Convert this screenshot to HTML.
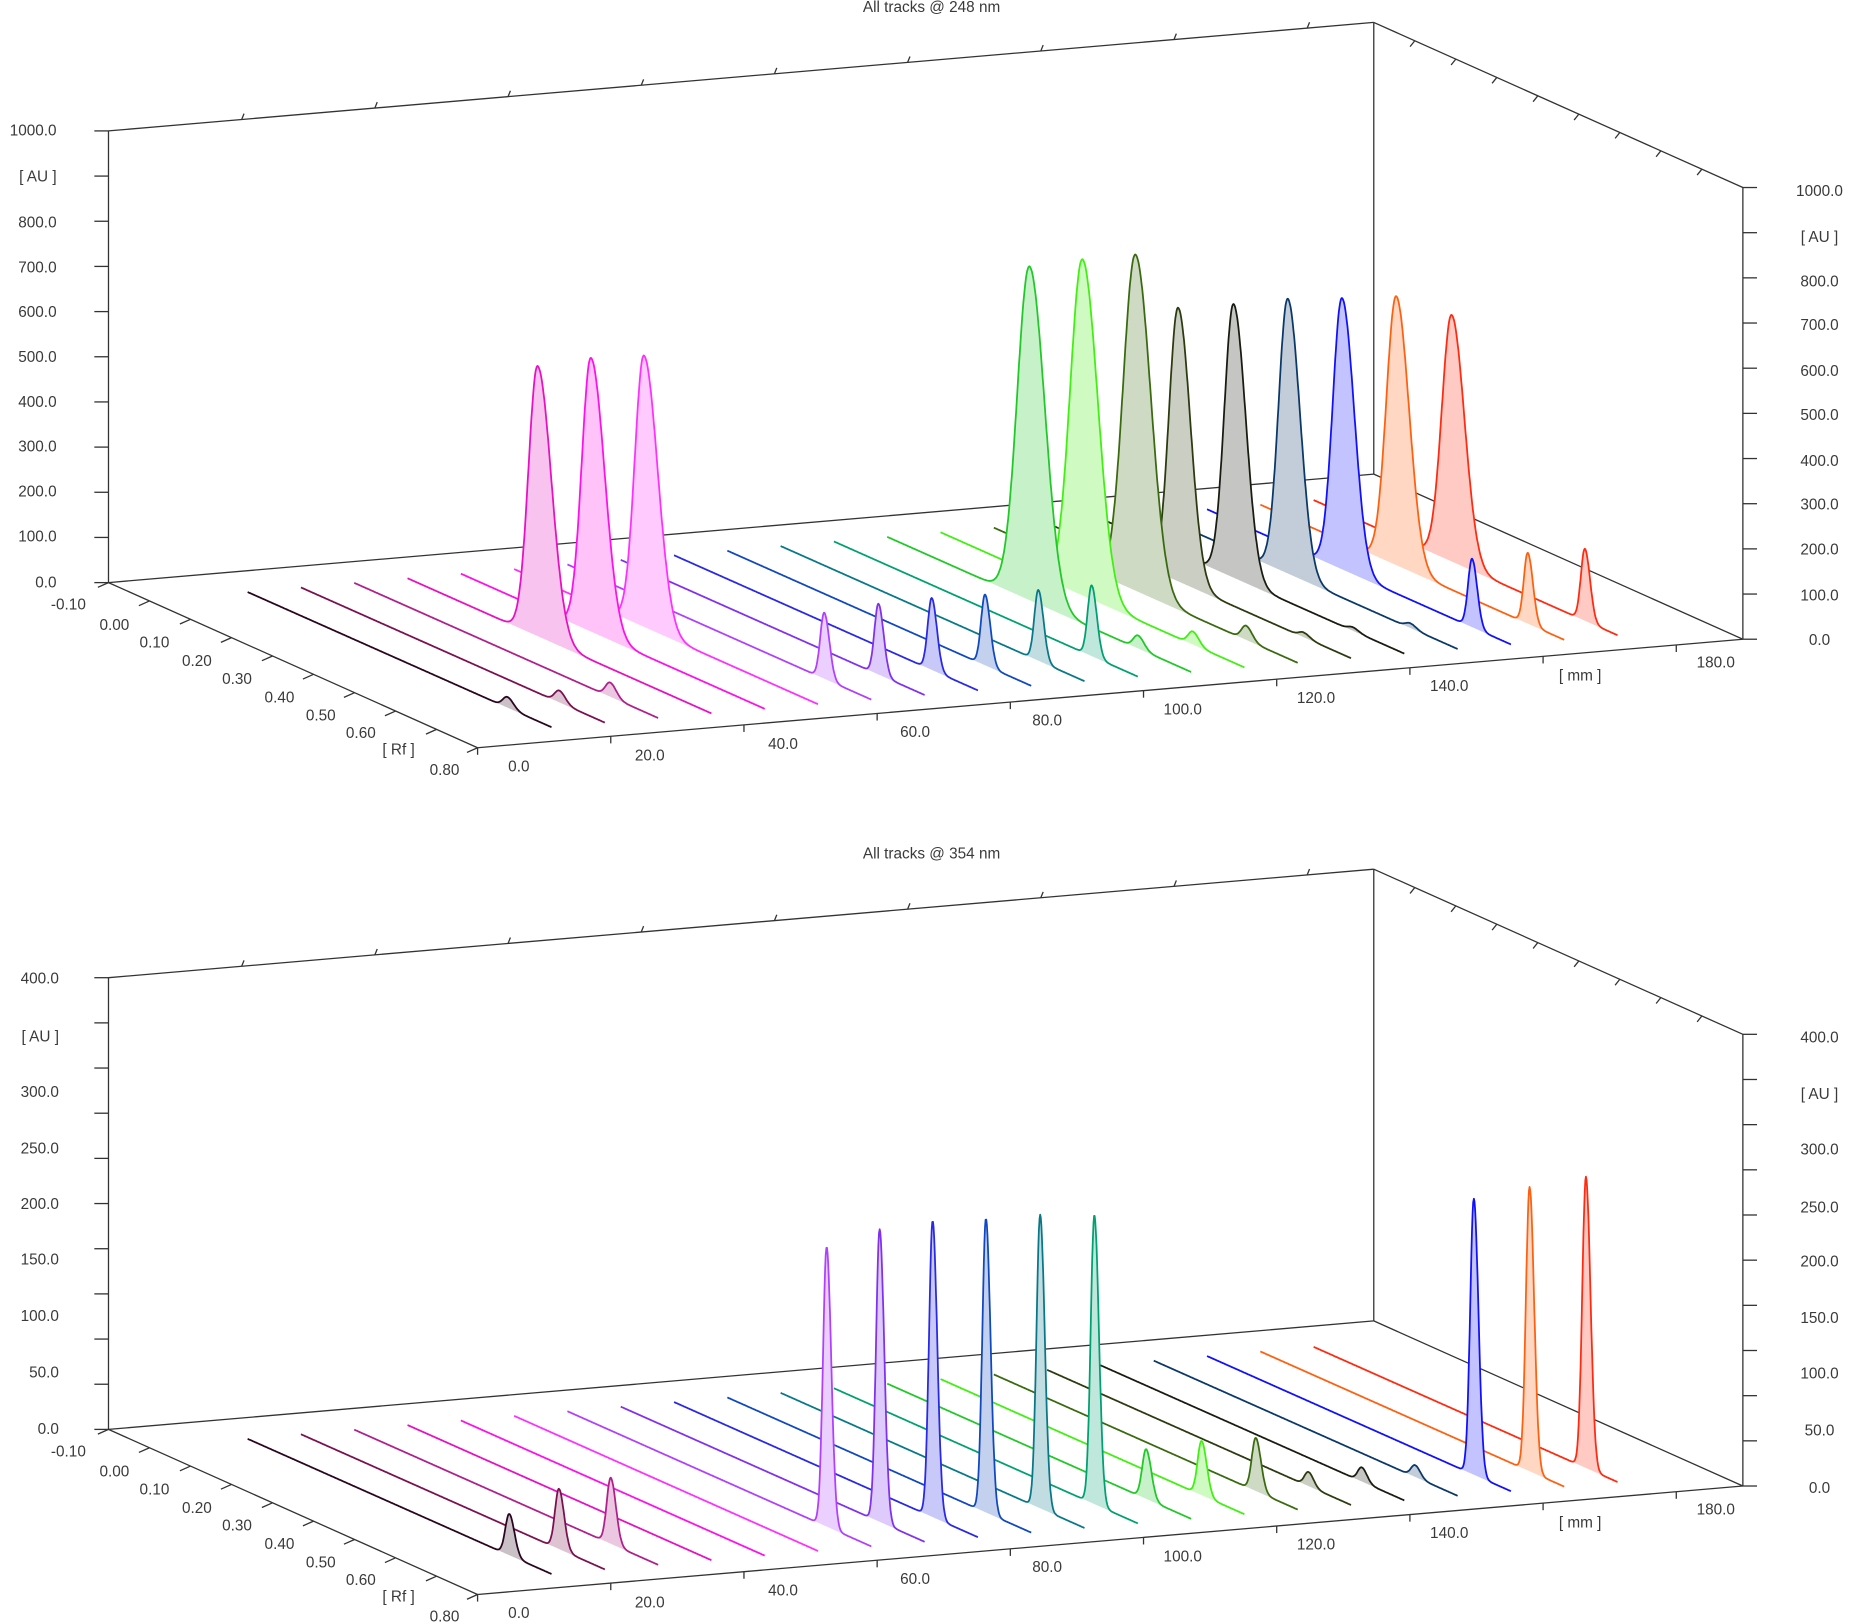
<!DOCTYPE html>
<html><head><meta charset="utf-8">
<style>
html,body{margin:0;padding:0;background:#fff;}
svg{display:block;}
text{font-family:"Liberation Sans",Arial,sans-serif;font-size:13px;fill:#3a3a3a;}
</style></head>
<body>
<svg id="s" width="1849" height="1624" viewBox="0 0 1568 1377" preserveAspectRatio="none" xmlns="http://www.w3.org/2000/svg">
<g id="axes" stroke="#333" stroke-width="1.1" fill="none"></g>
<g id="labels"></g>
<g id="tracks"></g>
</svg>
<script>
(function(){
var NS="http://www.w3.org/2000/svg";
var axes=document.getElementById('axes'),labels=document.getElementById('labels'),tracks=document.getElementById('tracks');
function el(tag,attrs,parent,txt){var e=document.createElementNS(NS,tag);for(var k in attrs)e.setAttribute(k,attrs[k]);if(txt!==undefined)e.textContent=txt;parent.appendChild(e);return e;}
function line(x1,y1,x2,y2,p){el('line',{x1:x1,y1:y1,x2:x2,y2:y2},p||axes);}
function txt(x,y,s,anchor){el('text',{x:x,y:y,'text-anchor':anchor||'middle'},labels,s);}

var colors=['#2a0520','#7a1050','#b0208a','#e810c0','#ff10e8','#ff30ff','#b040ff','#8030f0','#2828e8','#1048c0','#087888','#00a070','#20c828','#40f010','#3a6a10','#2c3a10','#181c10','#0a3868','#1010ff','#ff6010','#ff2a10'];
function tint(c,a){var r=parseInt(c.substr(1,2),16),g=parseInt(c.substr(3,2),16),b=parseInt(c.substr(5,2),16);
 function m(v){return Math.round(255-(255-v)*a);}return 'rgb('+m(r)+','+m(g)+','+m(b)+')';}

function drawPlot(off,title,leftLabels,rightLabels,peaks){
 line(92,494+off,92,111+off);
 line(92,111+off,1165,19+off);
 line(1165,19+off,1478,159+off);
 line(1478,159+off,1478,542+off);
 line(1165,19+off,1165,402+off);
 line(92,494+off,1165,402+off);
 line(1165,402+off,1478,542+off);
 line(92,494+off,405,634+off);
 line(405,634+off,1478,542+off);
 for(var i=0;i<=10;i++){var y=494+off-38.3*i;line(80,y,92,y);}
 for(var i=0;i<=10;i++){var y=542+off-38.3*i;line(1478,y,1490,y);}
 for(var j=1;j<=9;j++){var x=92+1073*j*20/190,y=111+off-92*j*20/190;line(x,y,x+2,y-5);}
 for(var j=1;j<=8;j++){var f=j/9;var x=1165+313*f,y=19+off+140*f;line(x,y,x-4,y+5);}
 for(var j=0;j<=9;j++){var f=j/9;var x=92+313*f,y=494+off+140*f;line(x,y,x-9,y+4);}
 for(var j=0;j<=9;j++){var f=j*20/190;var x=405+1073*f,y=634+off-92*f;line(x,y,x,y+6);}
 txt(790,10+off,title);
 leftLabels.forEach(function(l){txt(l[1],l[0]+4+off,l[2],'end');});
 rightLabels.forEach(function(l){txt(1543,l[0]+4+off,l[1]);});
 var rf=['-0.10','0.00','0.10','0.20','0.30','0.40','0.50','0.60','[ Rf ]','0.80'];
 var rfx=[58,97,131,167,201,237,272,306,338,377];
 for(var j=0;j<10;j++){var yy=513+off+(653-513)*(rfx[j]-58)/(377-58);txt(rfx[j],yy+4,rf[j]);}
 var mm=[['0.0',440,650],['20.0',551,641],['40.0',664,631],['60.0',776,621],['80.0',888,611],['100.0',1003,602],['120.0',1116,592],['140.0',1229,582],['[ mm ]',1340,573],['180.0',1455,562]];
 mm.forEach(function(m){txt(m[1],m[2]+4+off,m[0]);});
 for(var k=20;k>=0;k--){
  var sx=210+45.2*k, sy=502-3.9*k+off;
  var pk=peaks[k]||[];
  var N=500,cur=[],base=[];
  for(var i=0;i<=N;i++){
   var t=i/N,h=0;
   pk.forEach(function(p){var s=t<p[0]?(p[2]||0.02):(p[3]||0.026);var d=(t-p[0])/s;h+=p[1]*Math.exp(-0.5*d*d);});
   var x=sx+257.7*t,y=sy+114.6*t;
   cur.push([x,y-h]);base.push([x,y]);
  }
  var d='M'+cur.map(function(p){return p[0].toFixed(1)+','+p[1].toFixed(1);}).join('L');
  if(pk.length){
   var fd=d+'L'+base.slice().reverse().map(function(p){return p[0].toFixed(1)+','+p[1].toFixed(1);}).join('L')+'Z';
   el('path',{d:fd,fill:tint(colors[k],0.25),stroke:'none'},tracks);
  }
  el('path',{d:d,fill:'none',stroke:colors[k],'stroke-width':1.5,'stroke-linejoin':'round'},tracks);
 }
}

var topPeaks={
 0:[[.855,9,.015,.02]],1:[[.85,10,.015,.02]],2:[[.842,12,.015,.02]],
 3:[[.428,229,.03,.045]],4:[[.428,232,.03,.045]],5:[[.427,230,.03,.045]],
 6:[[.845,56,.013,.017]],7:[[.848,60,.013,.017]],8:[[.848,61,.013,.017]],9:[[.848,60,.013,.017]],10:[[.848,60,.013,.017]],11:[[.848,60,.013,.017]],
 12:[[.468,283,.04,.05],[.825,11,.015,.02]],13:[[.467,285,.04,.05],[.83,11,.015,.02]],14:[[.466,285,.04,.05],[.83,12,.015,.02]],
 15:[[.431,232,.03,.04],[.844,4,.015,.02]],16:[[.438,232,.03,.04],[.83,3,.015,.02]],17:[[.441,233,.03,.04],[.844,4,.015,.02]],
 18:[[.444,230,.03,.04],[.872,58,.013,.017]],19:[[.447,228,.032,.042],[.88,60,.013,.017]],20:[[.454,209,.032,.042],[.8925,61,.013,.017]]
};
var botPeaks={
 0:[[.861,35,.013,.017]],1:[[.849,51,.013,.017]],2:[[.844,56,.013,.017]],
 6:[[.853,237,.012,.015]],7:[[.852,248,.012,.015]],8:[[.851,251,.012,.015]],9:[[.851,249,.012,.015]],10:[[.854,249,.012,.015]],11:[[.857,245,.012,.015]],
 12:[[.852,42,.013,.017]],13:[[.859,46,.013,.017]],14:[[.862,45,.013,.017]],
 15:[[.86,12,.013,.017]],16:[[.86,12,.013,.017]],17:[[.86,10,.013,.017]],
 18:[[.878,234,.012,.015]],19:[[.886,241,.012,.015]],20:[[.896,247,.012,.015]]
};
var topLeft=[[494,48,'0.0'],[455,48,'100.0'],[417,48,'200.0'],[379,48,'300.0'],[341,48,'400.0'],[303,48,'500.0'],[265,48,'600.0'],[227,48,'700.0'],[189,48,'800.0'],[150,48,'[ AU ]'],[111,48,'1000.0']];
var topRight=[[543,'0.0'],[505,'100.0'],[466,'200.0'],[428,'300.0'],[391,'400.0'],[352,'500.0'],[315,'600.0'],[276,'700.0'],[239,'800.0'],[201,'[ AU ]'],[162,'1000.0']];
drawPlot(0,'All tracks @ 248 nm',topLeft,topRight,topPeaks);
var botLeft=[[494,50,'0.0'],[446,50,'50.0'],[398,50,'100.0'],[350,50,'150.0'],[303,50,'200.0'],[256,50,'250.0'],[208,50,'300.0'],[161,50,'[ AU ]'],[112,50,'400.0']];
var botRight=[[544,'0.0'],[495,'50.0'],[447,'100.0'],[400,'150.0'],[352,'200.0'],[306,'250.0'],[257,'300.0'],[210,'[ AU ]'],[162,'400.0']];
drawPlot(718,'All tracks @ 354 nm',botLeft,botRight,botPeaks);
})();
</script>
</body></html>
